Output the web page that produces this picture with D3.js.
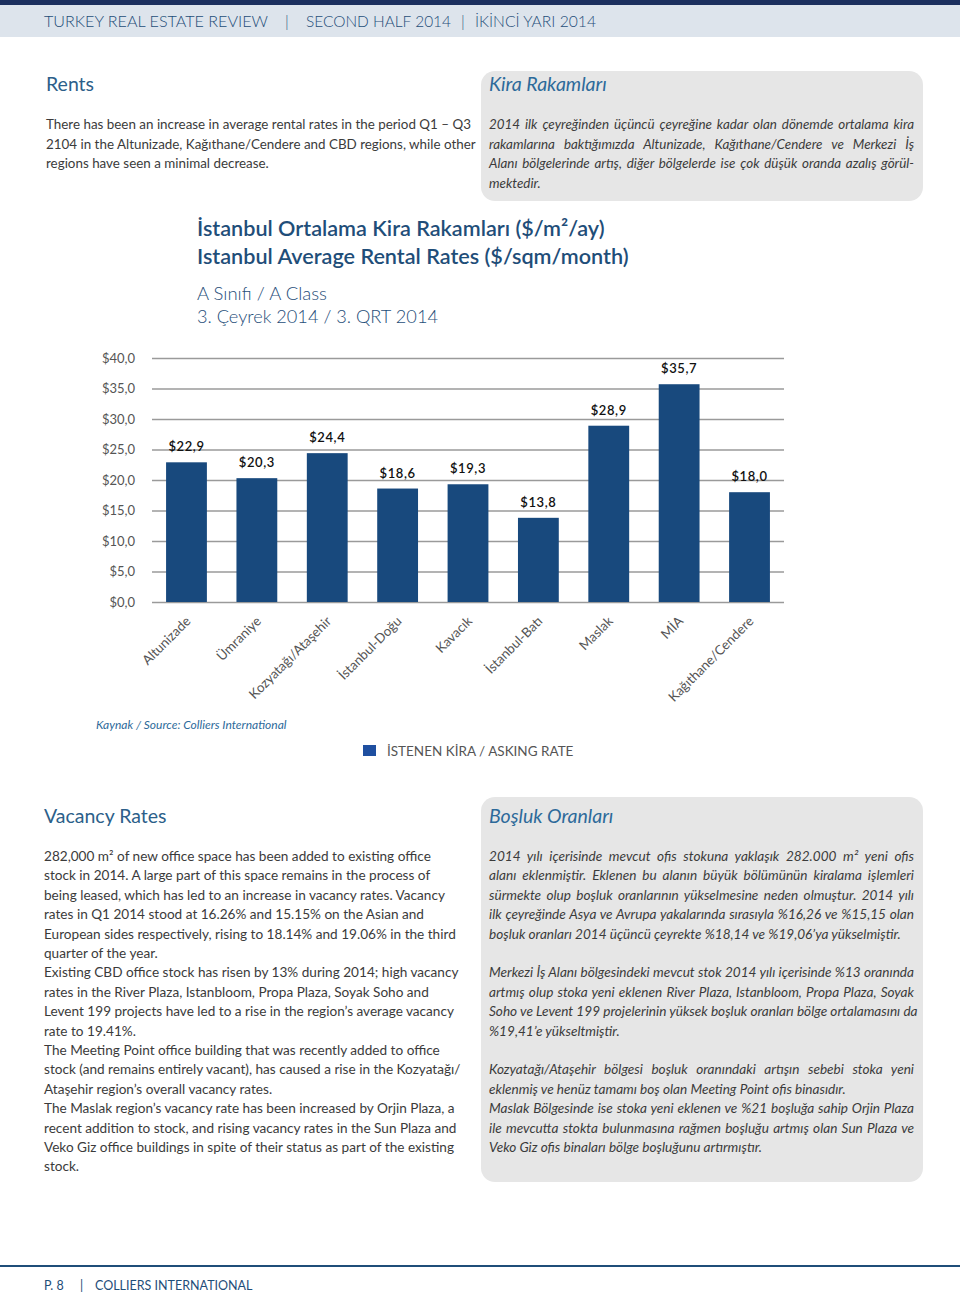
<!DOCTYPE html>
<html>
<head>
<meta charset="utf-8">
<script src="https://cdn.jsdelivr.net/npm/d3@7"></script>
<style>
  html, body { margin: 0; padding: 0; background: #fff; }
  svg { display: block; font-family: Lato, "Open Sans", sans-serif; }
</style>
</head>
<body>
<svg id="page" width="960" height="1295"></svg>
<script>
// chart data
const regions = ["Altunizade", "Ümraniye", "Kozyatağı/Ataşehir", "İstanbul-Doğu", "Kavacık", "İstanbul-Batı", "Maslak", "MİA", "Kağıthane/Cendere"];
const askingRates = [22.9, 20.3, 24.4, 18.6, 19.3, 13.8, 28.9, 35.7, 18.0];
const yTicks = [0, 5, 10, 15, 20, 25, 30, 35, 40];

// page texts
const rentsLines = [
  "There has been an increase in average rental rates in the period Q1 – Q3",
  "2104 in the Altunizade, Kağıthane/Cendere and CBD regions, while other",
  "regions have seen a minimal decrease."
];
const kiraLines = [
  ["2014 ilk çeyreğinden üçüncü çeyreğine kadar olan dönemde ortalama kira", true],
  ["rakamlarına baktığımızda Altunizade, Kağıthane/Cendere ve Merkezi İş", true],
  ["Alanı bölgelerinde artış, diğer bölgelerde ise çok düşük oranda azalış görül-", true],
  ["mektedir.", false]
];
const vacancyLines = [
  "282,000 m² of new office space has been added to existing office",
  "stock in 2014. A large part of this space remains in the process of",
  "being leased, which has led to an increase in vacancy rates. Vacancy",
  "rates in Q1 2014 stood at 16.26% and 15.15% on the Asian and",
  "European sides respectively, rising to 18.14% and 19.06% in the third",
  "quarter of the year.",
  "Existing CBD office stock has risen by 13% during 2014; high vacancy",
  "rates in the River Plaza, Istanbloom, Propa Plaza, Soyak Soho and",
  "Levent 199 projects have led to a rise in the region’s average vacancy",
  "rate to 19.41%.",
  "The Meeting Point office building that was recently added to office",
  "stock (and remains entirely vacant), has caused a rise in the Kozyatağı/",
  "Ataşehir region’s overall vacancy rates.",
  "The Maslak region’s vacancy rate has been increased by Orjin Plaza, a",
  "recent addition to stock, and rising vacancy rates in the Sun Plaza and",
  "Veko Giz office buildings in spite of their status as part of the existing",
  "stock."
];
const boslukLines = [
  ["2014 yılı içerisinde mevcut ofis stokuna yaklaşık 282.000 m² yeni ofis", true],
  ["alanı eklenmiştir. Eklenen bu alanın büyük bölümünün kiralama işlemleri", true],
  ["sürmekte olup boşluk oranlarının yükselmesine neden olmuştur. 2014 yılı", true],
  ["ilk çeyreğinde Asya ve Avrupa yakalarında sırasıyla %16,26 ve %15,15 olan", true],
  ["boşluk oranları 2014 üçüncü çeyrekte %18,14 ve %19,06’ya yükselmiştir.", false],
  ["", false],
  ["Merkezi İş Alanı bölgesindeki mevcut stok 2014 yılı içerisinde %13 oranında", true],
  ["artmış olup stoka yeni eklenen River Plaza, Istanbloom, Propa Plaza, Soyak", true],
  ["Soho ve Levent 199 projelerinin yüksek boşluk oranları bölge ortalamasını da", true],
  ["%19,41’e yükseltmiştir.", false],
  ["", false],
  ["Kozyatağı/Ataşehir bölgesi boşluk oranındaki artışın sebebi stoka yeni", true],
  ["eklenmiş ve henüz tamamı boş olan Meeting Point ofis binasıdır.", false],
  ["Maslak Bölgesinde ise stoka yeni eklenen ve %21 boşluğa sahip Orjin Plaza", true],
  ["ile mevcutta stokta bulunmasına rağmen boşluğu artmış olan Sun Plaza ve", true],
  ["Veko Giz ofis binaları bölge boşluğunu artırmıştır.", false]
];

const blue = "#1f4e79";
const headBlue = "#2c5f8a";
const bodyGrey = "#3b3b3b";
const barBlue = "#18497d";

const svg = d3.select("#page");

// write a line, spread words out to the given width when justify is set
function textLine(g, str, x, y, size, opts = {}) {
  const t = g.append("text")
    .attr("x", x)
    .attr("y", y)
    .attr("font-size", size)
    .attr("fill", opts.fill || bodyGrey)
    .attr("font-style", opts.italic ? "italic" : null)
    .attr("font-weight", opts.weight || null)
    .text(str);
  if (opts.justify) {
    const natural = t.node().getComputedTextLength();
    const gaps = (str.match(/ /g) || []).length;
    if (gaps > 0 && natural < opts.justify) {
      t.attr("word-spacing", (opts.justify - natural) / gaps);
    }
  }
  return t;
}

// header band
svg.append("rect").attr("x", 0).attr("y", 0).attr("width", 960).attr("height", 5).attr("fill", "#1b2f5e");
svg.append("rect").attr("x", 0).attr("y", 5).attr("width", 960).attr("height", 32).attr("fill", "#dde4ec");
const header = svg.append("g").attr("fill", blue).attr("font-size", 15.5).attr("font-weight", 300);
header.append("text").attr("x", 44).attr("y", 27).attr("textLength", 224).attr("lengthAdjust", "spacingAndGlyphs").text("TURKEY REAL ESTATE REVIEW");
header.append("text").attr("x", 285).attr("y", 27).text("|");
header.append("text").attr("x", 306).attr("y", 27).attr("textLength", 145).attr("lengthAdjust", "spacingAndGlyphs").text("SECOND HALF 2014");
header.append("text").attr("x", 461).attr("y", 27).text("|");
header.append("text").attr("x", 475).attr("y", 27).attr("textLength", 121).attr("lengthAdjust", "spacingAndGlyphs").text("İKİNCİ YARI 2014");

// rents
const upper = svg.append("g");
textLine(upper, "Rents", 46, 91, 19.5, { fill: headBlue });
rentsLines.forEach((s, i) => textLine(upper, s, 46, 129 + i * 19.5, 13.4));

upper.append("rect").attr("x", 481).attr("y", 71).attr("width", 442).attr("height", 130).attr("rx", 14).attr("fill", "#e6e6e6");
textLine(upper, "Kira Rakamları", 489, 91, 19.5, { fill: "#2d6a9a", italic: true });
kiraLines.forEach(([s, j], i) => textLine(upper, s, 489, 129 + i * 19.5, 13.4, { italic: true, justify: j ? 425 : null }));

// chart titles
const titles = svg.append("g").attr("fill", blue);
textLine(titles, "İstanbul Ortalama Kira Rakamları ($/m²/ay)", 197, 236, 21.6, { fill: blue, weight: 600 });
textLine(titles, "Istanbul Average Rental Rates ($/sqm/month)", 197, 264, 21.6, { fill: blue, weight: 600 });
textLine(titles, "A Sınıfı / A Class", 197, 300, 18.5, { fill: blue, weight: 300 });
textLine(titles, "3. Çeyrek 2014 / 3. QRT 2014", 197, 323, 18.2, { fill: blue, weight: 300 });

// bar chart
const x = d3.scaleBand().domain(regions).range([152, 784]).paddingInner(0.42).paddingOuter(0.2);
const y = d3.scaleLinear().domain([0, 40]).range([602, 358]);

const chart = svg.append("g");

const yAxis = chart.append("g")
  .attr("transform", "translate(152,0)")
  .call(d3.axisLeft(y).tickValues(yTicks).tickSize(-632).tickPadding(17)
    .tickFormat(d => "$" + d3.format(".1f")(d).replace(".", ",")));
yAxis.select(".domain").remove();
yAxis.selectAll(".tick line").attr("stroke", "#9a9a9a").attr("stroke-width", 1.6);
yAxis.selectAll(".tick text").attr("fill", "#555").attr("font-size", 13).attr("font-family", "Lato, sans-serif");

chart.selectAll(".bar")
  .data(askingRates)
  .enter()
  .append("rect")
  .attr("class", "bar")
  .attr("x", (d, i) => x(regions[i]))
  .attr("y", d => y(d))
  .attr("width", x.bandwidth())
  .attr("height", d => y(0) - y(d))
  .attr("fill", barBlue);

chart.selectAll(".val")
  .data(askingRates)
  .enter()
  .append("text")
  .attr("class", "val")
  .attr("x", (d, i) => x(regions[i]) + x.bandwidth() / 2)
  .attr("y", d => y(d) - 11)
  .attr("text-anchor", "middle")
  .attr("font-size", 13)
  .attr("font-weight", 600)
  .attr("letter-spacing", 0.6)
  .attr("fill", "#111")
  .text(d => "$" + d3.format(".1f")(d).replace(".", ","));

chart.selectAll(".xlab")
  .data(regions)
  .enter()
  .append("text")
  .attr("class", "xlab")
  .attr("transform", d => `translate(${x(d) + x.bandwidth() / 2 + 5}, 622) rotate(-45)`)
  .attr("text-anchor", "end")
  .attr("font-size", 13.3)
  .attr("fill", "#555")
  .text(d => d);

textLine(chart, "Kaynak / Source: Colliers International", 96, 729, 12, { fill: "#2d6a9a", italic: true });

chart.append("rect").attr("x", 363).attr("y", 745).attr("width", 13).attr("height", 11).attr("fill", "#1f4fa0");
textLine(chart, "İSTENEN KİRA / ASKING RATE", 387, 756, 13.5, { fill: "#555" });

// vacancy
const lower = svg.append("g");
textLine(lower, "Vacancy Rates", 44, 823, 19.5, { fill: headBlue });
vacancyLines.forEach((s, i) => textLine(lower, s, 44, 861 + i * 19.4, 13.6));

lower.append("rect").attr("x", 481).attr("y", 797).attr("width", 442).attr("height", 385).attr("rx", 14).attr("fill", "#e6e6e6");
textLine(lower, "Boşluk Oranları", 489, 823, 19.5, { fill: "#2d6a9a", italic: true });
boslukLines.forEach(([s, j], i) => {
  if (s) textLine(lower, s, 489, 861 + i * 19.4, 13.6, { italic: true, justify: j ? 425 : null });
});

// footer
svg.append("line").attr("x1", 0).attr("x2", 960).attr("y1", 1266).attr("y2", 1266).attr("stroke", blue).attr("stroke-width", 2);
const foot = svg.append("g").attr("fill", blue).attr("font-size", 12.5);
foot.append("text").attr("x", 44).attr("y", 1290).text("P. 8");
foot.append("text").attr("x", 80).attr("y", 1290).text("|");
foot.append("text").attr("x", 95).attr("y", 1290).text("COLLIERS INTERNATIONAL");
</script>
</body>
</html>
